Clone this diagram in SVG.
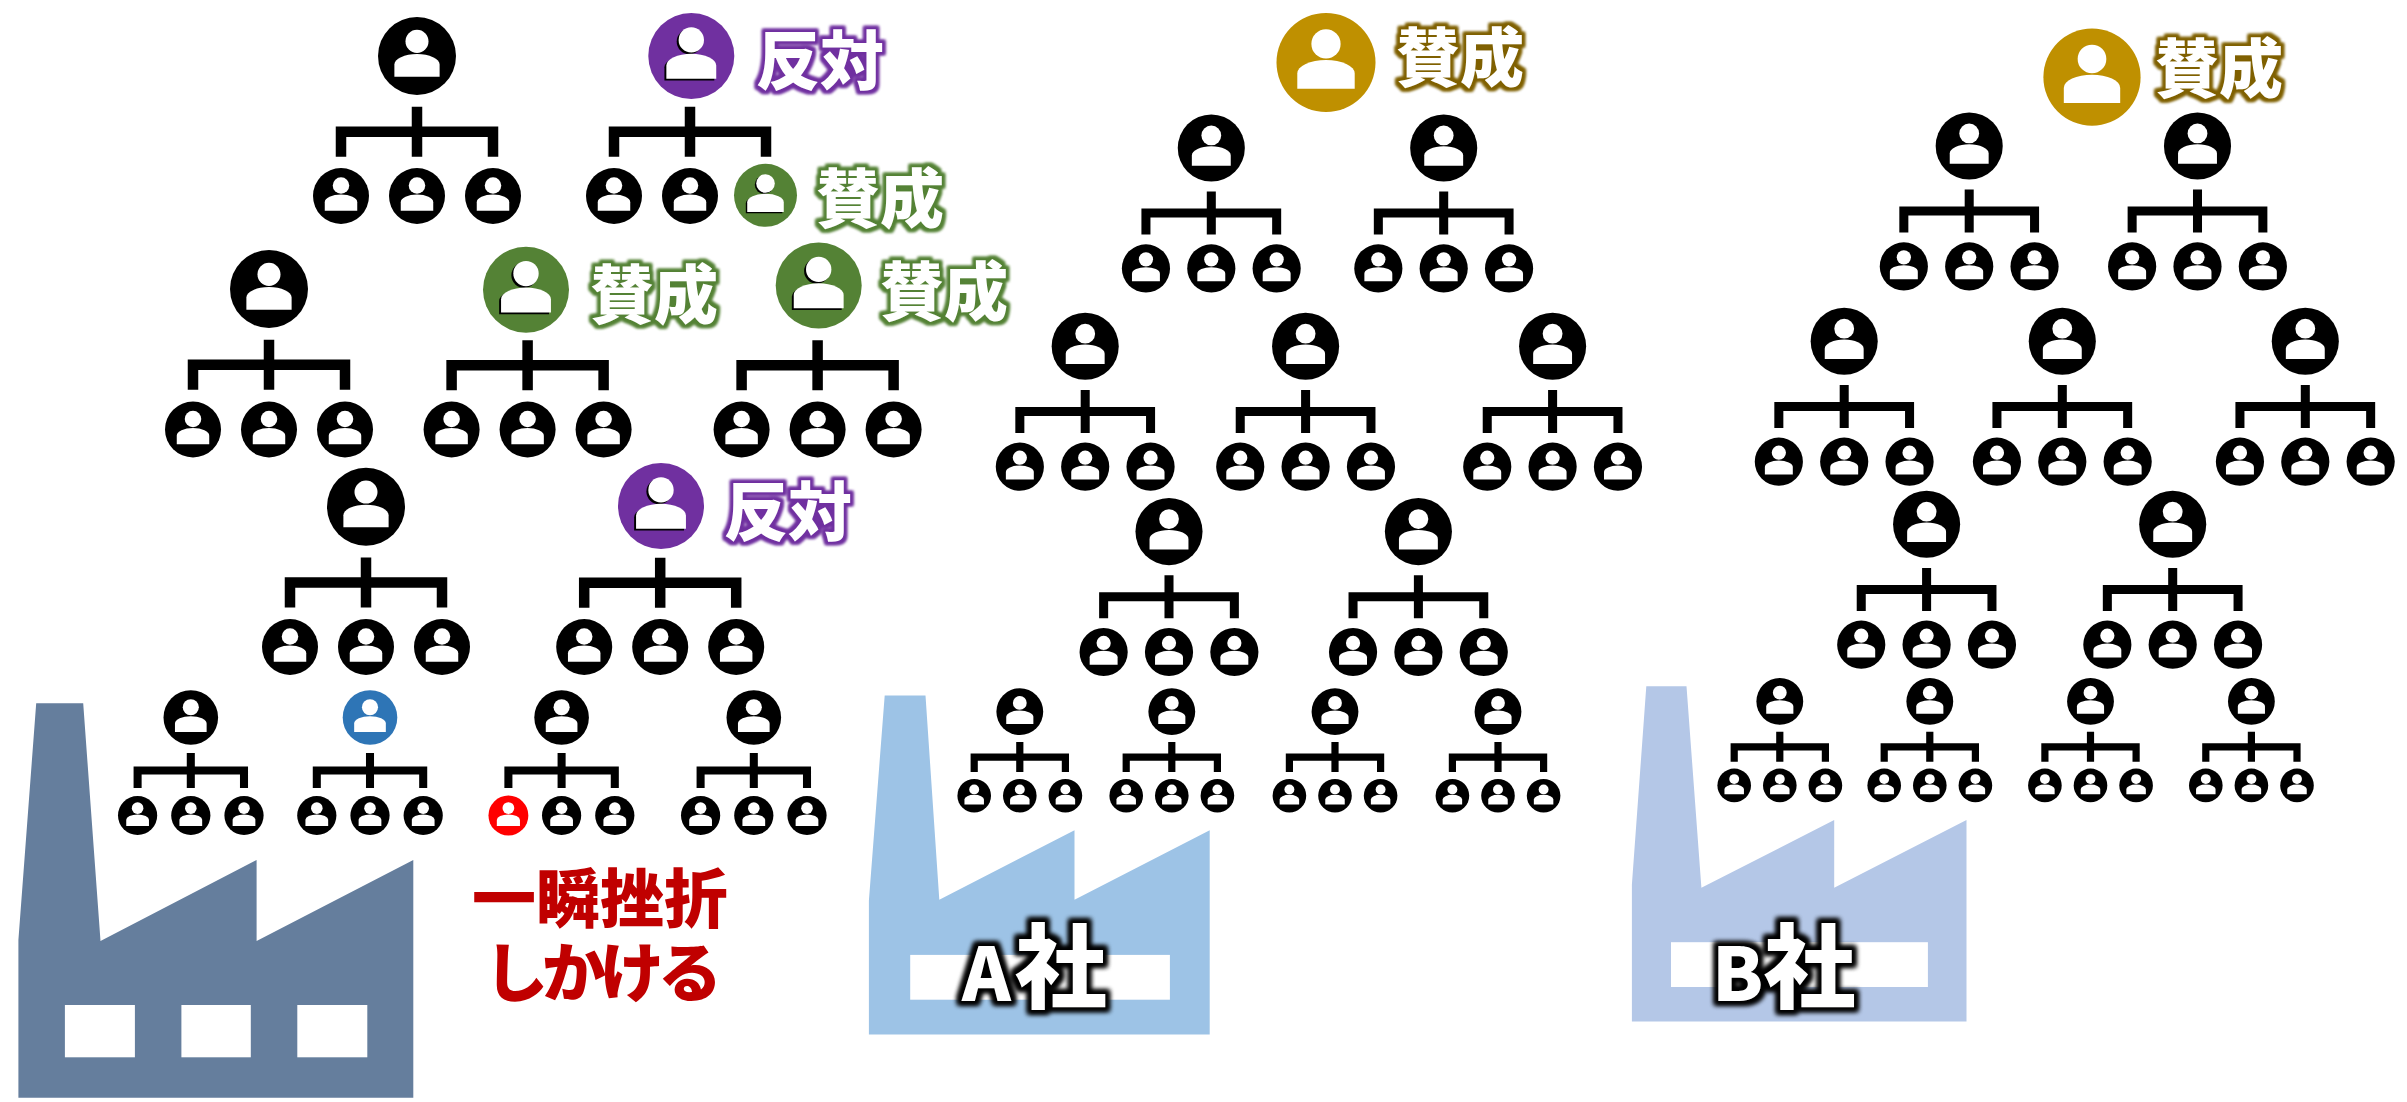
<svg xmlns="http://www.w3.org/2000/svg" width="2407" height="1102" viewBox="0 0 2407 1102">
  <style>
    .lbl { font-family: "Noto Sans CJK JP", "Noto Sans CJK SC", sans-serif; font-weight: 900; font-size: 64px; fill: #fff; }
    .co { font-family: "Noto Sans CJK JP", "Noto Sans CJK SC", sans-serif; font-weight: 900; fill: #fff; }
    .warn { font-family: "Noto Sans CJK JP", "Noto Sans CJK SC", sans-serif; font-weight: 900; font-size: 64px; fill: #C00000; }
  </style>
  <defs>
    <!-- person badge, unit radius; the disc takes the fill of the <use> -->
    <g id="p">
      <circle r="1"/>
      <circle cy="-0.375" r="0.295" fill="#fff"/>
      <path d="M-0.58,0.53 V0.22 A0.58 0.27 0 0 1 0.58 0.22 V0.53 Z" fill="#fff"/>
    </g>
    <!-- coloured badge with a dark drop edge on the figure -->
    <g id="pc">
      <circle r="1"/>
      <g transform="translate(-0.045,0.04)" fill="#000">
        <circle cy="-0.375" r="0.295"/>
        <path d="M-0.58,0.53 V0.22 A0.58 0.27 0 0 1 0.58 0.22 V0.53 Z"/>
      </g>
      <circle cy="-0.375" r="0.295" fill="#fff"/>
      <path d="M-0.58,0.53 V0.22 A0.58 0.27 0 0 1 0.58 0.22 V0.53 Z" fill="#fff"/>
    </g>
    <!-- bracket joining a manager to three reports (stroke width comes from the use) -->
    <path id="tree" d="M-76,100.7 V75.7 H76 V100.7 M0,50.7 V100.7" fill="none" stroke="#000"/>

    <filter id="gPurple" x="-15%" y="-20%" width="130%" height="140%" color-interpolation-filters="sRGB">
      <feMorphology in="SourceAlpha" operator="dilate" radius="2.8" result="d"/>
      <feGaussianBlur in="d" stdDeviation="1.6" result="b"/>
      <feFlood flood-color="#7030A0"/>
      <feComposite in2="b" operator="in" result="o"/>
      <feMerge><feMergeNode in="o"/><feMergeNode in="o"/><feMergeNode in="SourceGraphic"/></feMerge>
    </filter>
    <filter id="gGreen" x="-15%" y="-20%" width="130%" height="140%" color-interpolation-filters="sRGB">
      <feMorphology in="SourceAlpha" operator="dilate" radius="2.8" result="d"/>
      <feGaussianBlur in="d" stdDeviation="1.6" result="b"/>
      <feFlood flood-color="#548235"/>
      <feComposite in2="b" operator="in" result="o"/>
      <feMerge><feMergeNode in="o"/><feMergeNode in="o"/><feMergeNode in="SourceGraphic"/></feMerge>
    </filter>
    <filter id="gGold" x="-15%" y="-20%" width="130%" height="140%" color-interpolation-filters="sRGB">
      <feMorphology in="SourceAlpha" operator="dilate" radius="2.8" result="d"/>
      <feGaussianBlur in="d" stdDeviation="1.6" result="b"/>
      <feFlood flood-color="#7F6000"/>
      <feComposite in2="b" operator="in" result="o"/>
      <feMerge><feMergeNode in="o"/><feMergeNode in="o"/><feMergeNode in="SourceGraphic"/></feMerge>
    </filter>
    <filter id="gBlack" x="-15%" y="-20%" width="130%" height="140%" color-interpolation-filters="sRGB">
      <feMorphology in="SourceAlpha" operator="dilate" radius="3.5" result="d"/>
      <feGaussianBlur in="d" stdDeviation="2.4" result="b"/>
      <feFlood flood-color="#000"/>
      <feComposite in2="b" operator="in" result="o"/>
      <feMerge><feMergeNode in="o"/><feMergeNode in="o"/><feMergeNode in="SourceGraphic"/></feMerge>
    </filter>
  </defs>

  <rect width="2407" height="1102" fill="#fff"/>

  <!-- factories (background) -->
  <g id="factory-left">
    <path d="M36.2,703.3 H83.2 L100.5,941 L256.6,860 V941 L413.3,860 V1097.7 H18.4 V940 Z" fill="#657E9D"/>
    <rect x="64.9" y="1005" width="70" height="52.3" fill="#fff"/>
    <rect x="181.4" y="1005" width="69.4" height="52.3" fill="#fff"/>
    <rect x="297.3" y="1005" width="70" height="52.3" fill="#fff"/>
  </g>
  <g id="factory-a">
    <path d="M884.7,695.4 H925.5 L939.3,899.7 L1074.5,830.3 V899.7 L1209.7,830.3 V1034.6 H868.9 V900.5 Z" fill="#9DC3E6"/>
    <rect x="910.2" y="954.9" width="259.7" height="44.8" fill="#fff"/>
  </g>
  <g id="factory-b">
    <path d="M1646.3,686.3 H1686.5 L1701.4,887.8 L1834.2,820 V887.8 L1966.5,820 V1021.5 H1631.9 V884.6 Z" fill="#B4C7E7"/>
    <rect x="1671" y="942.2" width="256.9" height="44.8" fill="#fff"/>
  </g>

  <!-- reporting brackets -->
  <g id="connectors">
    <use href="#tree" stroke-width="10.5" transform="translate(417,56)"/>
    <use href="#tree" stroke-width="10.5" transform="translate(690,56)"/>
    <use href="#tree" stroke-width="10.5" transform="translate(269,289)"/>
    <use href="#tree" stroke-width="10.5" transform="translate(527.6,289.5)"/>
    <use href="#tree" stroke-width="10.5" transform="translate(817.6,289.5)"/>
    <use href="#tree" stroke-width="10.5" transform="translate(366,506.7)"/>
    <use href="#tree" stroke-width="10.5" transform="translate(660.2,507)"/>
    <use href="#tree" stroke-width="11.5" transform="translate(190.8,717.5) scale(0.7)"/>
    <use href="#tree" stroke-width="11.5" transform="translate(370,717.5) scale(0.7)"/>
    <use href="#tree" stroke-width="11.5" transform="translate(561.6,717.5) scale(0.7)"/>
    <use href="#tree" stroke-width="11.5" transform="translate(753.8,717.5) scale(0.7)"/>

    <use href="#tree" stroke-width="10.5" transform="translate(1211.3,148) scale(0.86)"/>
    <use href="#tree" stroke-width="10.5" transform="translate(1443.7,148) scale(0.86)"/>
    <use href="#tree" stroke-width="10.5" transform="translate(1085.2,346.3) scale(0.86)"/>
    <use href="#tree" stroke-width="10.5" transform="translate(1305.6,346.3) scale(0.86)"/>
    <use href="#tree" stroke-width="10.5" transform="translate(1552.6,346.3) scale(0.86)"/>
    <use href="#tree" stroke-width="10.5" transform="translate(1169,531.6) scale(0.86)"/>
    <use href="#tree" stroke-width="10.5" transform="translate(1418.4,531.6) scale(0.86)"/>
    <use href="#tree" stroke-width="12" transform="translate(1019.8,711.7) scale(0.6)"/>
    <use href="#tree" stroke-width="12" transform="translate(1171.8,711.7) scale(0.6)"/>
    <use href="#tree" stroke-width="12" transform="translate(1335,711.7) scale(0.6)"/>
    <use href="#tree" stroke-width="12" transform="translate(1498,711.7) scale(0.6)"/>

    <use href="#tree" stroke-width="10.5" transform="translate(1969.2,146) scale(0.86)"/>
    <use href="#tree" stroke-width="10.5" transform="translate(2197.5,146) scale(0.86)"/>
    <use href="#tree" stroke-width="10.5" transform="translate(1844.2,341.3) scale(0.86)"/>
    <use href="#tree" stroke-width="10.5" transform="translate(2062.3,341.3) scale(0.86)"/>
    <use href="#tree" stroke-width="10.5" transform="translate(2305.3,341.3) scale(0.86)"/>
    <use href="#tree" stroke-width="10.5" transform="translate(1926.6,524.3) scale(0.86)"/>
    <use href="#tree" stroke-width="10.5" transform="translate(2172.7,524.3) scale(0.86)"/>
    <use href="#tree" stroke-width="12" transform="translate(1779.8,701.4) scale(0.6)"/>
    <use href="#tree" stroke-width="12" transform="translate(1929.8,701.4) scale(0.6)"/>
    <use href="#tree" stroke-width="12" transform="translate(2090.5,701.4) scale(0.6)"/>
    <use href="#tree" stroke-width="12" transform="translate(2251.4,701.4) scale(0.6)"/>
  </g>

  <!-- left organisation -->
  <g id="left-unit-1" transform="translate(417,56)">
    <use href="#p" transform="scale(39)"/>
    <use href="#p" transform="translate(-76,140) scale(28)"/>
    <use href="#p" transform="translate(0,140) scale(28)"/>
    <use href="#p" transform="translate(76,140) scale(28)"/>
  </g>
  <g id="left-unit-2" transform="translate(690,56)">
    <use href="#pc" fill="#7030A0" transform="translate(1.3,0) scale(43)"/>
    <use href="#p" transform="translate(-76,140) scale(28)"/>
    <use href="#p" transform="translate(0,140) scale(28)"/>
    <use href="#pc" fill="#548235" transform="translate(75.5,139.3) scale(31.5)"/>
  </g>
  <g id="left-unit-3" transform="translate(269,289)">
    <use href="#p" transform="scale(39)"/>
    <use href="#p" transform="translate(-76,140.5) scale(28)"/>
    <use href="#p" transform="translate(0,140.5) scale(28)"/>
    <use href="#p" transform="translate(76,140.5) scale(28)"/>
  </g>
  <g id="left-unit-4" transform="translate(527.6,289.5)">
    <use href="#pc" fill="#548235" transform="translate(-1.6,0.2) scale(43)"/>
    <use href="#p" transform="translate(-76,140) scale(28)"/>
    <use href="#p" transform="translate(0,140) scale(28)"/>
    <use href="#p" transform="translate(76,140) scale(28)"/>
  </g>
  <g id="left-unit-5" transform="translate(817.6,289.5)">
    <use href="#pc" fill="#548235" transform="translate(1.1,-4) scale(43)"/>
    <use href="#p" transform="translate(-76,140) scale(28)"/>
    <use href="#p" transform="translate(0,140) scale(28)"/>
    <use href="#p" transform="translate(76,140) scale(28)"/>
  </g>
  <g id="left-unit-6" transform="translate(366,506.7)">
    <use href="#p" transform="scale(39)"/>
    <use href="#p" transform="translate(-76,140.3) scale(28)"/>
    <use href="#p" transform="translate(0,140.3) scale(28)"/>
    <use href="#p" transform="translate(76,140.3) scale(28)"/>
  </g>
  <g id="left-unit-7" transform="translate(660.2,507)">
    <use href="#pc" fill="#7030A0" transform="translate(0.8,-1) scale(43)"/>
    <use href="#p" transform="translate(-76,140) scale(28)"/>
    <use href="#p" transform="translate(0,140) scale(28)"/>
    <use href="#p" transform="translate(76,140) scale(28)"/>
  </g>
  <g id="left-unit-8" transform="translate(190.8,717.5) scale(0.7)">
    <use href="#p" transform="scale(39)"/>
    <use href="#p" transform="translate(-76,140) scale(28)"/>
    <use href="#p" transform="translate(0,140) scale(28)"/>
    <use href="#p" transform="translate(76,140) scale(28)"/>
  </g>
  <g id="left-unit-9" transform="translate(370,717.5) scale(0.7)">
    <use href="#p" fill="#2E75B6" transform="scale(39)"/>
    <use href="#p" transform="translate(-76,140) scale(28)"/>
    <use href="#p" transform="translate(0,140) scale(28)"/>
    <use href="#p" transform="translate(76,140) scale(28)"/>
  </g>
  <g id="left-unit-10" transform="translate(561.6,717.5) scale(0.7)">
    <use href="#p" transform="scale(39)"/>
    <use href="#p" fill="#FF0000" transform="translate(-76,140) scale(28.5)"/>
    <use href="#p" transform="translate(0,140) scale(28)"/>
    <use href="#p" transform="translate(76,140) scale(28)"/>
  </g>
  <g id="left-unit-11" transform="translate(753.8,717.5) scale(0.7)">
    <use href="#p" transform="scale(39)"/>
    <use href="#p" transform="translate(-76,140) scale(28)"/>
    <use href="#p" transform="translate(0,140) scale(28)"/>
    <use href="#p" transform="translate(76,140) scale(28)"/>
  </g>

  <!-- company A -->
  <g id="a-head">
    <use href="#p" fill="#BF9000" transform="translate(1326,62.5) scale(49.5)"/>
  </g>
  <g id="a-unit-1" transform="translate(1211.3,148) scale(0.86)">
    <use href="#p" transform="scale(39)"/>
    <use href="#p" transform="translate(-76,140) scale(28)"/>
    <use href="#p" transform="translate(0,140) scale(28)"/>
    <use href="#p" transform="translate(76,140) scale(28)"/>
  </g>
  <g id="a-unit-2" transform="translate(1443.7,148) scale(0.86)">
    <use href="#p" transform="scale(39)"/>
    <use href="#p" transform="translate(-76,140) scale(28)"/>
    <use href="#p" transform="translate(0,140) scale(28)"/>
    <use href="#p" transform="translate(76,140) scale(28)"/>
  </g>
  <g id="a-unit-3" transform="translate(1085.2,346.3) scale(0.86)">
    <use href="#p" transform="scale(39)"/>
    <use href="#p" transform="translate(-76,140) scale(28)"/>
    <use href="#p" transform="translate(0,140) scale(28)"/>
    <use href="#p" transform="translate(76,140) scale(28)"/>
  </g>
  <g id="a-unit-4" transform="translate(1305.6,346.3) scale(0.86)">
    <use href="#p" transform="scale(39)"/>
    <use href="#p" transform="translate(-76,140) scale(28)"/>
    <use href="#p" transform="translate(0,140) scale(28)"/>
    <use href="#p" transform="translate(76,140) scale(28)"/>
  </g>
  <g id="a-unit-5" transform="translate(1552.6,346.3) scale(0.86)">
    <use href="#p" transform="scale(39)"/>
    <use href="#p" transform="translate(-76,140) scale(28)"/>
    <use href="#p" transform="translate(0,140) scale(28)"/>
    <use href="#p" transform="translate(76,140) scale(28)"/>
  </g>
  <g id="a-unit-6" transform="translate(1169,531.6) scale(0.86)">
    <use href="#p" transform="scale(39)"/>
    <use href="#p" transform="translate(-76,140) scale(28)"/>
    <use href="#p" transform="translate(0,140) scale(28)"/>
    <use href="#p" transform="translate(76,140) scale(28)"/>
  </g>
  <g id="a-unit-7" transform="translate(1418.4,531.6) scale(0.86)">
    <use href="#p" transform="scale(39)"/>
    <use href="#p" transform="translate(-76,140) scale(28)"/>
    <use href="#p" transform="translate(0,140) scale(28)"/>
    <use href="#p" transform="translate(76,140) scale(28)"/>
  </g>
  <g id="a-unit-8" transform="translate(1019.8,711.7) scale(0.6)">
    <use href="#p" transform="scale(39)"/>
    <use href="#p" transform="translate(-76,140) scale(28)"/>
    <use href="#p" transform="translate(0,140) scale(28)"/>
    <use href="#p" transform="translate(76,140) scale(28)"/>
  </g>
  <g id="a-unit-9" transform="translate(1171.8,711.7) scale(0.6)">
    <use href="#p" transform="scale(39)"/>
    <use href="#p" transform="translate(-76,140) scale(28)"/>
    <use href="#p" transform="translate(0,140) scale(28)"/>
    <use href="#p" transform="translate(76,140) scale(28)"/>
  </g>
  <g id="a-unit-10" transform="translate(1335,711.7) scale(0.6)">
    <use href="#p" transform="scale(39)"/>
    <use href="#p" transform="translate(-76,140) scale(28)"/>
    <use href="#p" transform="translate(0,140) scale(28)"/>
    <use href="#p" transform="translate(76,140) scale(28)"/>
  </g>
  <g id="a-unit-11" transform="translate(1498,711.7) scale(0.6)">
    <use href="#p" transform="scale(39)"/>
    <use href="#p" transform="translate(-76,140) scale(28)"/>
    <use href="#p" transform="translate(0,140) scale(28)"/>
    <use href="#p" transform="translate(76,140) scale(28)"/>
  </g>

  <!-- company B -->
  <g id="b-head">
    <use href="#p" fill="#BF9000" transform="translate(2092,77.2) scale(48.6)"/>
  </g>
  <g id="b-unit-1" transform="translate(1969.2,146) scale(0.86)">
    <use href="#p" transform="scale(39)"/>
    <use href="#p" transform="translate(-76,140) scale(28)"/>
    <use href="#p" transform="translate(0,140) scale(28)"/>
    <use href="#p" transform="translate(76,140) scale(28)"/>
  </g>
  <g id="b-unit-2" transform="translate(2197.5,146) scale(0.86)">
    <use href="#p" transform="scale(39)"/>
    <use href="#p" transform="translate(-76,140) scale(28)"/>
    <use href="#p" transform="translate(0,140) scale(28)"/>
    <use href="#p" transform="translate(76,140) scale(28)"/>
  </g>
  <g id="b-unit-3" transform="translate(1844.2,341.3) scale(0.86)">
    <use href="#p" transform="scale(39)"/>
    <use href="#p" transform="translate(-76,140) scale(28)"/>
    <use href="#p" transform="translate(0,140) scale(28)"/>
    <use href="#p" transform="translate(76,140) scale(28)"/>
  </g>
  <g id="b-unit-4" transform="translate(2062.3,341.3) scale(0.86)">
    <use href="#p" transform="scale(39)"/>
    <use href="#p" transform="translate(-76,140) scale(28)"/>
    <use href="#p" transform="translate(0,140) scale(28)"/>
    <use href="#p" transform="translate(76,140) scale(28)"/>
  </g>
  <g id="b-unit-5" transform="translate(2305.3,341.3) scale(0.86)">
    <use href="#p" transform="scale(39)"/>
    <use href="#p" transform="translate(-76,140) scale(28)"/>
    <use href="#p" transform="translate(0,140) scale(28)"/>
    <use href="#p" transform="translate(76,140) scale(28)"/>
  </g>
  <g id="b-unit-6" transform="translate(1926.6,524.3) scale(0.86)">
    <use href="#p" transform="scale(39)"/>
    <use href="#p" transform="translate(-76,140) scale(28)"/>
    <use href="#p" transform="translate(0,140) scale(28)"/>
    <use href="#p" transform="translate(76,140) scale(28)"/>
  </g>
  <g id="b-unit-7" transform="translate(2172.7,524.3) scale(0.86)">
    <use href="#p" transform="scale(39)"/>
    <use href="#p" transform="translate(-76,140) scale(28)"/>
    <use href="#p" transform="translate(0,140) scale(28)"/>
    <use href="#p" transform="translate(76,140) scale(28)"/>
  </g>
  <g id="b-unit-8" transform="translate(1779.8,701.4) scale(0.6)">
    <use href="#p" transform="scale(39)"/>
    <use href="#p" transform="translate(-76,140) scale(28)"/>
    <use href="#p" transform="translate(0,140) scale(28)"/>
    <use href="#p" transform="translate(76,140) scale(28)"/>
  </g>
  <g id="b-unit-9" transform="translate(1929.8,701.4) scale(0.6)">
    <use href="#p" transform="scale(39)"/>
    <use href="#p" transform="translate(-76,140) scale(28)"/>
    <use href="#p" transform="translate(0,140) scale(28)"/>
    <use href="#p" transform="translate(76,140) scale(28)"/>
  </g>
  <g id="b-unit-10" transform="translate(2090.5,701.4) scale(0.6)">
    <use href="#p" transform="scale(39)"/>
    <use href="#p" transform="translate(-76,140) scale(28)"/>
    <use href="#p" transform="translate(0,140) scale(28)"/>
    <use href="#p" transform="translate(76,140) scale(28)"/>
  </g>
  <g id="b-unit-11" transform="translate(2251.4,701.4) scale(0.6)">
    <use href="#p" transform="scale(39)"/>
    <use href="#p" transform="translate(-76,140) scale(28)"/>
    <use href="#p" transform="translate(0,140) scale(28)"/>
    <use href="#p" transform="translate(76,140) scale(28)"/>
  </g>

  <!-- vote labels -->
  <g id="labels">
    <text class="lbl" x="756" y="84" filter="url(#gPurple)">反対</text>
    <text class="lbl" x="816" y="222" filter="url(#gGreen)">賛成</text>
    <text class="lbl" x="590" y="318" filter="url(#gGreen)">賛成</text>
    <text class="lbl" x="880" y="315" filter="url(#gGreen)">賛成</text>
    <text class="lbl" x="724" y="535" filter="url(#gPurple)">反対</text>
    <text class="lbl" x="1396" y="81" filter="url(#gGold)">賛成</text>
    <text class="lbl" x="2155" y="92" filter="url(#gGold)">賛成</text>
  </g>

  <!-- two-line note beside the left factory -->
  <g id="setback-note">
    <text class="warn" text-anchor="middle"><tspan x="600" y="922">一瞬挫折</tspan><tspan x="600" y="996" letter-spacing="-6">しかける</tspan></text>
  </g>

  <g id="company-names">
    <text class="co" x="962" y="1001" filter="url(#gBlack)"><tspan font-size="74">A</tspan><tspan font-size="92" dx="4">社</tspan></text>
    <text class="co" x="1712" y="1001" filter="url(#gBlack)"><tspan font-size="74">B</tspan><tspan font-size="92" dx="0">社</tspan></text>
  </g>
</svg>
